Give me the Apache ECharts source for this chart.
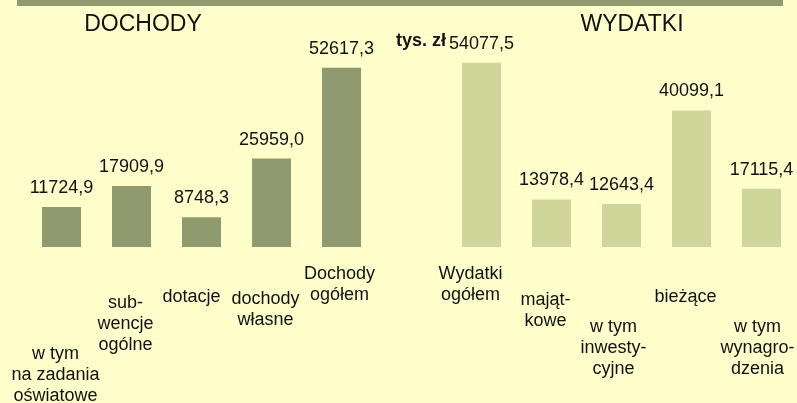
<!DOCTYPE html>
<html>
<head>
<meta charset="utf-8">
<script src="https://cdn.jsdelivr.net/npm/echarts@6/dist/echarts.min.js"></script>
<style>
html, body { margin: 0; padding: 0; background: #ffffcc; }
#main { width: 797px; height: 403px; }
</style>
</head>
<body>
<div id="main"></div>
<script>
var dochodyLabels = ['w tym\nna zadania\noświatowe', 'sub-\nwencje\nogólne', 'dotacje', 'dochody\nwłasne', 'Dochody\nogółem'];
var dochodyValues = [11724.9, 17909.9, 8748.3, 25959.0, 52617.3];
var wydatkiLabels = ['Wydatki\nogółem', 'mająt-\nkowe', 'w tym\ninwesty-\ncyjne', 'bieżące', 'w tym\nwynagro-\ndzenia'];
var wydatkiValues = [54077.5, 13978.4, 12643.4, 40099.1, 17115.4];
var groupTitles = ['DOCHODY', 'WYDATKI'];
var unitLabel = 'tys. zł';

// przesuniecia podpisow pod slupkami (w dol / w lewo), px
var dochodyDrop = [80, 29, 23, 25, 0];
var dochodyShift = [6, 6, 10, 6, 2];
var wydatkiDrop = [0, 26, 53, 23, 53];
var wydatkiShift = [11, 6, 8, 6, 4];

var olive = '#8f9a6e';
var lightOlive = '#d0d69a';
var font = 'Arial, "Liberation Sans", sans-serif';

function axisItem(label, drop, shift) {
    return { value: label, textStyle: { padding: [drop, shift * 2, 0, 0] } };
}

var axisData = [];
var barData = [];
for (var i = 0; i < dochodyLabels.length; i++) {
    axisData.push(axisItem(dochodyLabels[i], dochodyDrop[i], dochodyShift[i]));
    barData.push(dochodyValues[i]);
}
// pusta kolumna miedzy grupami
axisData.push({ value: '' });
barData.push('-');
for (var j = 0; j < wydatkiLabels.length; j++) {
    axisData.push(axisItem(wydatkiLabels[j], wydatkiDrop[j], wydatkiShift[j]));
    barData.push(wydatkiValues[j]);
}

var myChart = echarts.init(document.getElementById('main'));
var option = {
    backgroundColor: '#ffffcc',
    animation: false,
    textStyle: { fontFamily: font },
    grid: { left: 26.5, right: 0.5, top: 42.7, bottom: 156, containLabel: false, outerBoundsMode: 'none' },
    xAxis: {
        type: 'category',
        data: axisData,
        axisLine: { show: false },
        axisTick: { show: false },
        axisLabel: {
            interval: 0,
            margin: 17,
            color: '#111',
            fontSize: 18,
            lineHeight: 21,
            fontFamily: font,
            hideOverlap: false
        }
    },
    yAxis: {
        type: 'value',
        min: 0,
        max: 60000,
        show: false,
        splitLine: { show: false }
    },
    graphic: [
        { type: 'rect', shape: { x: 17, y: 0, width: 766, height: 6 }, style: { fill: olive } },
        { type: 'text', x: 143, y: 25, style: { text: groupTitles[0], fontSize: 23, fontFamily: font, fill: '#111', textAlign: 'center', textVerticalAlign: 'middle' } },
        { type: 'text', x: 632, y: 25, style: { text: groupTitles[1], fontSize: 23, fontFamily: font, fill: '#111', textAlign: 'center', textVerticalAlign: 'middle' } },
        { type: 'text', x: 446, y: 41, style: { text: unitLabel, fontSize: 18, fontWeight: 'bold', fontFamily: font, fill: '#111', textAlign: 'right', textVerticalAlign: 'middle' } }
    ],
    series: [
        {
            type: 'bar',
            data: barData,
            barWidth: 39,
            itemStyle: {
                color: function (p) { return p.dataIndex < dochodyLabels.length ? olive : lightOlive; }
            },
            label: {
                show: true,
                position: 'top',
                distance: 10,
                color: '#111',
                fontSize: 18,
                fontFamily: font,
                formatter: function (p) { return p.value.toFixed(1).replace('.', ','); }
            }
        }
    ]
};
option && myChart.setOption(option);
</script>
</body>
</html>
